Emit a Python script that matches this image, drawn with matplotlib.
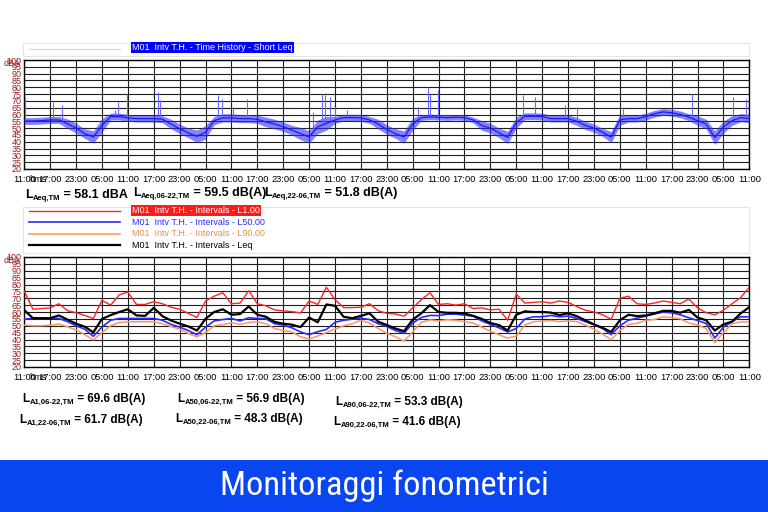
import matplotlib
matplotlib.use('Agg')
import matplotlib.pyplot as plt
from matplotlib import font_manager
from matplotlib.font_manager import FontProperties
from matplotlib.patches import Rectangle
from matplotlib.lines import Line2D
from matplotlib.transforms import offset_copy
import numpy as np

plt.rcParams['font.family'] = ['Liberation Sans', 'DejaVu Sans']

# ---------------- data ----------------
tick_hours = [0, 6, 12, 18, 24, 30, 36, 42, 48, 54, 60, 66, 72, 78, 84, 90, 96,
              102, 108, 114, 120, 126, 132, 138, 144, 150, 156, 162, 168]
tick_labels = ['11:00', '17:00', '23:00', '05:00', '11:00', '17:00', '23:00', '05:00',
               '11:00', '17:00', '23:00', '05:00', '11:00', '17:00', '23:00', '05:00',
               '11:00', '17:00', '23:00', '05:00', '11:00', '17:00', '23:00', '05:00',
               '11:00', '17:00', '23:00', '05:00', '11:00']
db_ticks = [20, 25, 30, 35, 40, 45, 50, 55, 60, 65, 70, 75, 80, 85, 90, 95, 100]

# interval time stamps (hours after 11:00 of the first day)
hours = [0, 2, 4, 6, 8, 10, 12, 14, 16, 18, 20, 22, 24, 26, 28, 30, 32, 34, 36, 38,
         40, 42, 44, 46, 48, 50, 52, 54, 56, 58, 60, 62, 64, 66, 68, 70, 72, 74, 76, 78,
         80, 82, 84, 86, 88, 90, 92, 94, 96, 98, 100, 102, 104, 106, 108, 110, 112, 114,
         116, 118, 120, 122, 124, 126, 128, 130, 132, 134, 136, 138, 140, 142, 144, 146,
         148, 150, 152, 154, 156, 158, 160, 162, 164, 166, 168]

# time history short Leq (centre of trace, half width of the noisy band)
th_center = [55.2, 55.2, 55.5, 56, 56, 53.3, 50, 46, 43.5, 52, 58.5, 58.5, 57.5, 57, 57,
             57, 56.5, 53, 49.5, 46.5, 44, 47, 55.5, 57.5, 57.5, 57, 57, 56.5, 54.5, 53,
             51, 48.5, 46, 43.5, 51, 53.5, 56, 57.7, 57.7, 57.5, 56, 53, 49, 46, 43.5, 53,
             57.7, 58.2, 58, 57.7, 58, 57.7, 56, 52, 50, 46.5, 43.2, 54, 58.7, 58.7, 58.5,
             57, 57, 57, 55, 52, 50, 47, 43.4, 56, 57, 57, 58.5, 60.5, 61.9, 61.3, 60.1,
             58, 55.5, 53, 43, 50.8, 55.5, 57.7, 57]
th_spread = [2.5, 2.5, 2.5, 2.5, 2.5, 3.5, 3.5, 3.5, 4.5, 5, 2.5, 2.5, 2.5, 2.5, 2.5,
             2.5, 2.5, 3.5, 3.5, 3.5, 4.5, 5, 3, 3, 3, 3, 3, 3, 3.5, 3.5, 3.5, 3.5, 4.5,
             4.5, 5, 5, 2.5, 2.5, 2.5, 2.5, 2.5, 3.5, 3.5, 3.5, 4.5, 4.5, 2, 2, 2, 2, 2,
             2, 2, 3.5, 3.5, 3.5, 4.5, 4, 2.5, 2.5, 2.5, 2.5, 2.5, 2.5, 3, 3, 3, 3, 4, 4,
             2.5, 2.5, 2.5, 2.5, 2.5, 2.5, 2.5, 2.5, 3.5, 3.5, 5, 4.5, 3.5, 3, 3]
spike_hours = [0.2, 6.7, 8.7, 21.0, 21.8, 23.9, 31.0, 31.4, 45.0, 45.7, 48.4, 51.7,
               67.0, 68.9, 69.7, 70.8, 71.9, 74.7, 91.3, 93.6, 94.0, 95.9, 115.6,
               118.3, 125.3, 128.0, 138.8, 154.8, 164.2, 167.3]
spike_peak = [73, 69, 66.8, 63, 69, 75.4, 76.6, 70.5, 74.2, 71.7, 65.6, 71.7,
              62, 75.4, 74.2, 73, 65.6, 63, 65.6, 80.3, 75.4, 77.9, 74.2,
              73, 66.8, 65.6, 65.6, 75.4, 73, 71.7]

# interval statistics
L1 = [75, 62, 62.5, 63, 66, 61, 59.5, 57.5, 55.3, 68.5, 65, 72.5, 74.5, 65.5, 65.5,
      67.5, 66, 63.5, 62, 59, 56, 68, 71.5, 74, 66, 66.5, 75.5, 66, 64.5, 61.5, 60.8,
      60.3, 59.3, 68, 65.5, 78, 69, 63.2, 63.2, 63.5, 66, 61, 59, 58.5, 57, 63, 69, 74,
      65.5, 66, 65, 66, 62.5, 63, 61.5, 62, 54, 73, 66.5, 67, 67.5, 66.5, 68, 67, 64,
      61.3, 60, 58, 54.7, 70, 71.5, 66, 65.5, 66.5, 68, 67, 66, 69.5, 63, 59.5, 58,
      61.3, 66, 70.5, 78]
L50 = [54.8, 55.3, 55.3, 55.5, 55.3, 53, 50, 47.5, 42.3, 49, 54, 55.3, 55.3, 55.3,
       55.3, 55.3, 54, 51, 49, 46.5, 43.5, 49, 53.5, 54.5, 55.3, 53.5, 55.8, 55.3, 55,
       51.5, 50.5, 48.5, 45.5, 43.5, 45.7, 47.3, 52.5, 54, 54.8, 55.5, 54.5, 51.5, 49.5,
       46.5, 44.5, 52, 56, 57.5, 57.4, 58.4, 58.5, 57.7, 57, 53.5, 51, 48.5, 45.5, 48,
       55, 56.5, 56.5, 57.5, 56.5, 57, 55.3, 53, 50.8, 48, 43.5, 50, 54, 55.5, 57, 58.5,
       60, 59.4, 58, 55.8, 53.8, 51.7, 41, 49, 53, 56.5, 56.5]
L90 = [50.5, 50, 50, 50.5, 51.2, 49.3, 47, 43.5, 39.8, 45, 50, 52.4, 52.9, 52.9, 52.9,
       52.9, 51.5, 49.5, 47.5, 44.5, 42, 45, 50, 50.8, 52.2, 51, 52.4, 52.9, 51.5, 48,
       46.5, 45.5, 42, 40.5, 42.5, 45, 47.5, 50, 51.5, 54, 52, 48, 44.5, 42, 38.8, 45.5,
       52.5, 54.3, 53.5, 54.4, 54, 53, 52, 49, 46, 43.5, 41, 42.5, 50.5, 52.9, 53.3,
       53.8, 53, 53.5, 53, 50.5, 47.5, 44, 39.8, 46.5, 51, 51.8, 54, 54.5, 56.5, 56, 55,
       52, 50.5, 48, 37.8, 45, 51.5, 52.8, 52.8]
Leq = [61.3, 55.5, 55.5, 55.5, 57.5, 54.5, 51.5, 49.3, 45.2, 55, 57.7, 60, 62, 57.5,
       57.2, 63, 57, 53.8, 51.5, 49.5, 46.5, 55, 60, 62, 58, 58.5, 64, 58, 56.5, 52.8,
       51.5, 50.8, 49, 56, 52.5, 65.5, 64.5, 56.5, 55.5, 57.2, 59, 53, 50.5, 48, 46,
       54.5, 59, 65, 60, 59.4, 59.4, 58.9, 57.2, 55, 52, 50.5, 46.5, 58, 60.5, 60, 60,
       59.6, 57.8, 59, 57, 54, 51, 48.5, 45.5, 54, 58, 57, 57.5, 59, 60.8, 60.8, 59.5,
       61.5, 56, 54, 46.5, 51, 53, 59, 63.5]

legend_top = 'M01  Intv T.H. - Time History - Short Leq'
legend_bottom = ['M01  Intv T.H. - Intervals - L1.00',
                 'M01  Intv T.H. - Intervals - L50.00',
                 'M01  Intv T.H. - Intervals - L90.00',
                 'M01  Intv T.H. - Intervals - Leq']

# (subscript, value text)
top_notes = [('Aeq,TM', ' = 58.1 dBA'),
             ('Aeq,06-22,TM', ' = 59.5 dB(A)'),
             ('Aeq,22-06,TM', ' = 51.8 dB(A)')]
bottom_notes = [('A1,06-22,TM', ' = 69.6 dB(A)'),
                ('A1,22-06,TM', ' = 61.7 dB(A)'),
                ('A50,06-22,TM', ' = 56.9 dB(A)'),
                ('A50,22-06,TM', ' = 48.3 dB(A)'),
                ('A90,06-22,TM', ' = 53.3 dB(A)'),
                ('A90,22-06,TM', ' = 41.6 dB(A)')]
footer_title = 'Monitoraggi fonometrici'

# ---------------- figure ----------------
W, H = 768, 512
fig = plt.figure(figsize=(W / 100, H / 100), dpi=100)
fig.patch.set_facecolor('white')
renderer = fig.canvas.get_renderer()


def fx(x):
    return x / W


def fy(y):
    return 1 - y / H


def make_axes(top_px, bottom_px):
    left, right = 24.3, 749.3
    ax = fig.add_axes([fx(left), fy(bottom_px), (right - left) / W, (bottom_px - top_px) / H])
    ax.set_xlim(0, 168)
    ax.set_ylim(20, 100)
    ax.set_xticks(tick_hours)
    ax.set_xticklabels(tick_labels, fontsize=6.7)
    ax.set_yticks(db_ticks)
    ax.set_yticklabels([str(v) for v in db_ticks], fontsize=6.5, color='#9a1a1a')
    ax.tick_params(axis='x', length=0, pad=4.5)
    ax.tick_params(axis='y', length=0, pad=2)
    ax.grid(True, color='#1e1e1e', lw=0.8)
    ax.set_axisbelow(True)
    for s in ax.spines.values():
        s.set_color('black')
        s.set_linewidth(1.0)
    ax.text(-0.0045, 0.965, 'dBA', transform=ax.transAxes, ha='right', va='center',
            fontsize=6.5, color='#9a1a1a')
    trans = offset_copy(ax.get_xaxis_transform(), fig=fig, x=0, y=-11, units='dots')
    ax.text(3.2, 0, 'hms', transform=trans, ha='center', va='center', fontsize=6.7)
    return ax


# ---- top chart ----
ax1 = make_axes(60, 169)
c = np.array(th_center)
sp = np.array(th_spread)
ax1.fill_between(hours, c - sp, c + sp, color='#3030ff', alpha=0.6, lw=0, zorder=3)
base = np.interp(spike_hours, hours, th_center)
ax1.vlines(spike_hours, base, spike_peak, colors='#6a6aff', lw=0.8, zorder=3)
ax1.plot(hours, th_center, color='#1a1aff', lw=0.9, zorder=4)

# ---- bottom chart ----
ax2 = make_axes(257, 367)
ax2.plot(hours, L1, color='#ff2424', lw=1.0, zorder=4)
ax2.plot(hours, L90, color='#ff9560', lw=1.1, zorder=4)
ax2.plot(hours, L50, color='#2a2aff', lw=1.2, zorder=5)
ax2.plot(hours, Leq, color='black', lw=1.6, zorder=6)

# ---- legends ----
fig.add_artist(Rectangle((fx(23), fy(56)), (749 - 23) / W, 13 / H, transform=fig.transFigure,
                         fc='white', ec='#e4e4e4', lw=0.8))
fig.add_artist(Line2D([fx(29), fx(120)], [fy(49.3), fy(49.3)], transform=fig.transFigure,
                      color='#d6dcea', lw=1.0))
fig.text(fx(132), fy(47.7), legend_top, fontsize=6.5, color='white', ha='left', va='center',
         bbox=dict(boxstyle='square,pad=0.1', fc='#0000ff', ec='none'))

fig.add_artist(Rectangle((fx(23), fy(253)), (749 - 23) / W, 46 / H, transform=fig.transFigure,
                         fc='white', ec='#e4e4e4', lw=0.8))
leg_y = [210.7, 222.3, 233.7, 245.0]
leg_line_col = ['#ff2424', '#2a2aff', '#ff9560', 'black']
leg_lw = [1.0, 1.2, 1.1, 1.6]
leg_text_col = ['white', '#2a2aff', '#f08a50', 'black']
for i in range(4):
    fig.add_artist(Line2D([fx(29), fx(120)], [fy(leg_y[i]), fy(leg_y[i])],
                          transform=fig.transFigure, color=leg_line_col[i], lw=leg_lw[i]))
    kw = {}
    if i == 0:
        kw['bbox'] = dict(boxstyle='square,pad=0.1', fc='#ff1a1a', ec='none')
    fig.text(fx(132), fy(leg_y[i]), legend_bottom[i], fontsize=6.5, color=leg_text_col[i],
             ha='left', va='center', **kw)


# ---- annotations (L + small subscript + value) ----
def note(x, y_base, sub, rest, size, sub_size):
    t = fig.text(fx(x), fy(y_base), 'L', fontsize=size, fontweight='bold', va='baseline')
    x1 = t.get_window_extent(renderer).x1 + 0.3
    t2 = fig.text(x1 / W, fy(y_base + 2.0), sub, fontsize=sub_size, fontweight='bold',
                  va='baseline')
    x2 = t2.get_window_extent(renderer).x1
    fig.text(x2 / W, fy(y_base), rest, fontsize=size, fontweight='bold', va='baseline')


top_pos = [(25, 198.3), (133, 195.7), (264, 195.7)]
for (x, y), (sub, rest) in zip(top_pos, top_notes):
    note(x, y, sub, rest, 9, 5.5)
bottom_pos = [(22, 402), (19, 422.7), (177, 402), (175, 422), (335, 404.7), (333, 425)]
for (x, y), (sub, rest) in zip(bottom_pos, bottom_notes):
    note(x, y, sub, rest, 8.5, 5.5)

# ---- footer ----
fig.add_artist(Rectangle((0, 0), 1, fy(460), transform=fig.transFigure, fc='#0a46f0',
                         ec='none'))
cand = None
prefs = ['Roboto Condensed', 'Liberation Sans Narrow', 'Open Sans Condensed',
         'DejaVu Sans Condensed']
entries = font_manager.fontManager.ttflist
for p in prefs:
    for f in entries:
        if f.name == p and f.weight in (400, 'normal', 'regular') and f.style == 'normal':
            cand = f.fname
            break
    if cand:
        break
if cand is None:
    for f in entries:
        if (f.stretch in ('condensed', 'semi-condensed') or 'Condensed' in f.name
                or 'Narrow' in f.name) and f.style == 'normal':
            cand = f.fname
            break
fp = FontProperties(fname=cand) if cand else FontProperties(family='Roboto')
ft = fig.text(0.5, fy(486), footer_title, fontproperties=fp, fontsize=30, color='white',
              ha='center', va='center')
w = ft.get_window_extent(renderer).width
ft.set_fontsize(min(30 * 328.0 / w, 29))

fig.savefig('out.png', dpi=100, facecolor='white')
